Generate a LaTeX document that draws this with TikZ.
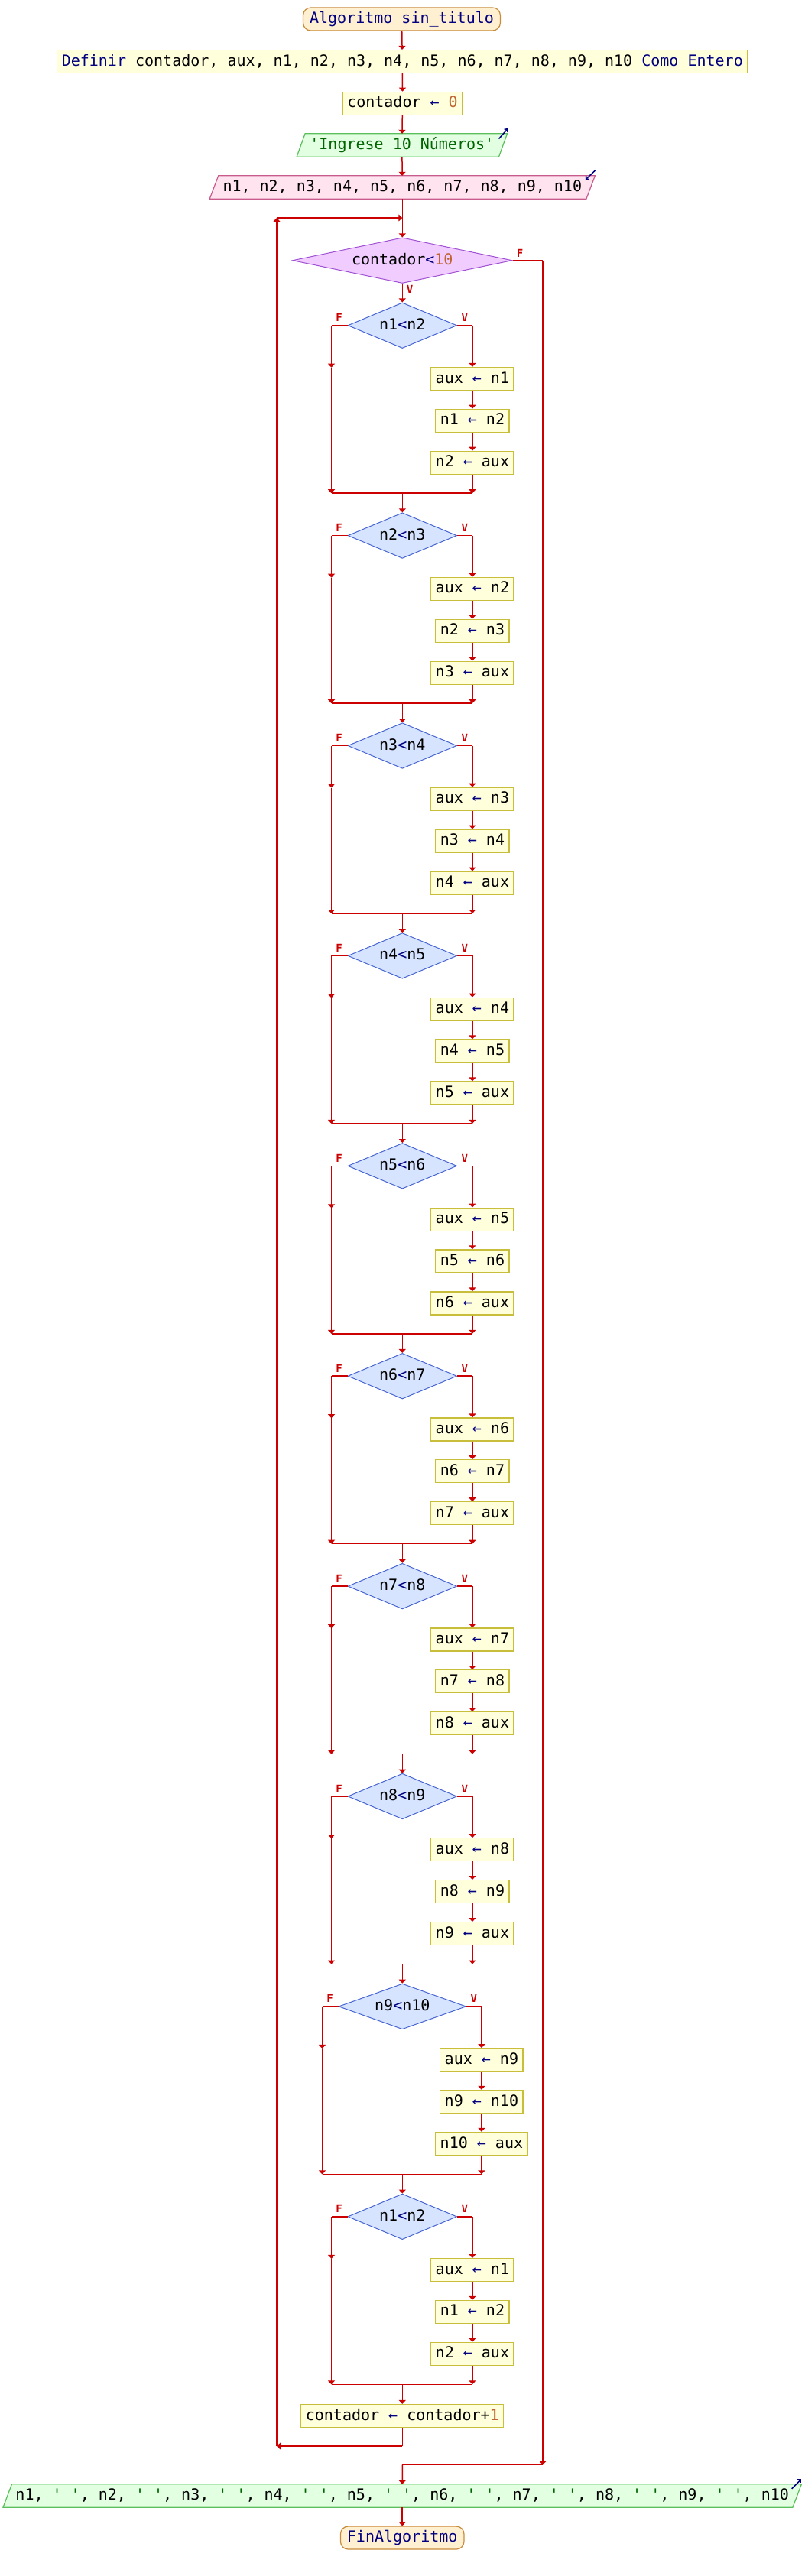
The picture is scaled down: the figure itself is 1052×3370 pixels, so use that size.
\documentclass[tikz,border=0pt]{standalone}
\usepackage{fontspec}
\setmonofont{DejaVu Sans Mono}
\usetikzlibrary{shapes.geometric,arrows.meta,calc,backgrounds}
\definecolor{lred}{RGB}{204,0,0}
\definecolor{navy}{RGB}{0,0,128}
\definecolor{numc}{RGB}{192,100,50}
\definecolor{strg}{RGB}{0,100,0}
\definecolor{tfill}{RGB}{255,240,210}
\definecolor{tborder}{RGB}{200,140,60}
\definecolor{pfill}{RGB}{255,255,220}
\definecolor{pborder}{RGB}{200,190,60}
\definecolor{ifill}{RGB}{255,228,240}
\definecolor{iborder}{RGB}{200,90,140}
\definecolor{ofill}{RGB}{226,255,226}
\definecolor{oborder}{RGB}{90,190,90}
\definecolor{mfill}{RGB}{240,204,255}
\definecolor{mborder}{RGB}{160,80,210}
\definecolor{dfill}{RGB}{214,228,255}
\definecolor{dborder}{RGB}{70,100,210}
\newcommand\asg{{\color{navy}←}}
\newcommand\qsp{{\color{strg}' '}}
\begin{document}
\begin{tikzpicture}[x=1pt,y=-1pt,
  every node/.style={font=\ttfamily\fontsize{20}{24}\selectfont, text height=15pt, text depth=4pt, inner sep=0pt},
  ln/.style={draw=lred, line width=1.5pt},
  arr/.style={-{Triangle[width=9pt,length=5pt]}},
  term/.style={rectangle, rounded corners=10pt, draw=tborder, fill=tfill, line width=1.2pt, minimum height=30pt, inner xsep=8.5pt, text=navy},
  proc/.style={rectangle, draw=pborder, fill=pfill, line width=1.2pt, minimum height=30pt, inner xsep=6pt},
  io/.style={rectangle, minimum height=30pt},
  inpoly/.style={draw=iborder, fill=ifill, line width=1.2pt},
  outpoly/.style={draw=oborder, fill=ofill, line width=1.2pt},
  cond/.style={diamond, draw=dborder, fill=dfill, line width=1pt, shape aspect=2.4, minimum height=59.6pt},
  mcond/.style={diamond, draw=mborder, fill=mfill, line width=1pt, shape aspect=4.8, minimum height=59.6pt, minimum width=287.4pt},
  lab/.style={font=\ttfamily\bfseries\fontsize{14}{14}\selectfont, text=lred, anchor=base},
  deco/.style={draw=navy, line width=1.5pt, -{Straight Barb[length=3pt,width=6pt]}},
]
\useasboundingbox (0,0) rectangle (1052,3370);

% top sequence
\node[term] (t0) at (525.5,25) {Algoritmo sin\_titulo};
\node[proc] (def) at (526.3,80.5) {{\color{navy}Definir} contador, aux, n1, n2, n3, n4, n5, n6, n7, n8, n9, n10 {\color{navy}Como Entero}};
\node[proc] (c0) at (526.5,135.3) {contador \asg{} {\color{numc}0}};
\node[io, minimum width=264pt, text=strg] (ing) at (525.8,190) {'Ingrese 10 Números'};
\node[io, minimum width=492.3pt] (inp) at (526.3,245) {n1, n2, n3, n4, n5, n6, n7, n8, n9, n10};
\begin{scope}[on background layer]
\draw[outpoly] ($(ing.south west)+(-5.5,0)$) -- ($(ing.north west)+(5.5,0)$) -- ($(ing.north east)+(5.5,0)$) -- ($(ing.south east)+(-5.5,0)$) -- cycle;
\draw[inpoly] ($(inp.south west)+(-5.75,0)$) -- ($(inp.north west)+(5.75,0)$) -- ($(inp.north east)+(5.75,0)$) -- ($(inp.south east)+(-5.75,0)$) -- cycle;
\end{scope}
\draw[deco] ($(ing.north east)+(-5.5,6.7)$) -- ($(ing.north east)+(6.5,-6.7)$);
\draw[deco] ($(inp.north east)+(5.75,-6.7)$) -- ($(inp.north east)+(-6.85,5.3)$);

\draw[ln,arr] (t0) -- (def);
\draw[ln,arr] (def) -- (c0);
\draw[ln,arr] (c0) -- (ing);
\draw[ln,arr] (ing) -- (inp);

% main loop condition
\node[mcond] (dm) at (526.3,340.7) {contador{\color{navy}<}{\color{numc}10}};
\draw[ln,arr] (inp) -- (dm);
\node[lab] (lmf) at (680,336) {F};
\node[lab] (lmv) at (536,383) {V};

% inner ifs
\foreach \k/\na/\nb/\hw in {0/1/2/71.3,1/2/3/71.3,2/3/4/71.3,3/4/5/71.3,4/5/6/71.3,5/6/7/71.3,6/7/8/71.3,7/8/9/71.3,8/9/10/83.3,9/1/2/71.3}{
  \pgfmathsetmacro\yc{425.7+274.9*\k}
  \pgfmathsetmacro\fx{526.3-\hw-21.5}
  \pgfmathsetmacro\vx{526.3+\hw+20.3}
  \pgfmathsetmacro\dw{2*\hw}
  \node[cond, minimum width=\dw pt] (d\k) at (526.3,\yc) {n\na{\color{navy}<}n\nb};
  \node[proc] (pa\k) at (\vx,\yc+69.8) {aux \asg{} n\na};
  \node[proc] (pb\k) at (\vx,\yc+124.6) {n\na{} \asg{} n\nb};
  \node[proc] (pc\k) at (\vx,\yc+179.6) {n\nb{} \asg{} aux};
  \coordinate (fc\k) at (\fx,\yc);
  \coordinate (fm\k) at (\fx,\yc+55);
  \coordinate (fe\k) at (\fx,\yc+219.5);
  \coordinate (vc\k) at (\vx,\yc);
  \coordinate (ve\k) at (\vx,\yc+219.5);
  \coordinate (m\k) at (526.3,\yc+219.5);
  \draw[ln] (d\k.west) -- (fc\k);
  \draw[ln,arr] (fc\k) -- (fm\k);
  \draw[ln,arr] (fm\k) -- (fe\k);
  \draw[ln] (d\k.east) -- (vc\k);
  \draw[ln,arr] (vc\k) -- (pa\k);
  \draw[ln,arr] (pa\k) -- (pb\k);
  \draw[ln,arr] (pb\k) -- (pc\k);
  \draw[ln,arr] (pc\k) -- (ve\k);
  \draw[ln] (fe\k) -- (ve\k);
  \node[lab] (lf\k) at (\fx+10,\yc-5) {F};
  \node[lab] (lv\k) at (\vx-10,\yc-5) {V};
  \ifnum\k=0
    \draw[ln,arr] (dm) -- (d\k);
  \else
    \pgfmathtruncatemacro\pk{\k-1}
    \draw[ln,arr] (m\pk) -- (d\k);
  \fi
}

% increment and loop back
\node[proc] (inc) at (526.3,3160.5) {contador \asg{} contador+{\color{numc}1}};
\draw[ln,arr] (m9) -- (inc);
\coordinate (lb1) at (526.3,3200);
\coordinate (lb2) at (362,3200);
\coordinate (lb3) at (362,285);
\coordinate (lj) at (526.3,285);
\draw[ln] (inc) -- (lb1);
\draw[ln,arr] (lb1) -- (lb2);
\draw[ln,arr] (lb2) -- (lb3);
\draw[ln,arr] (lb3) -- (lj);

% exit of main loop
\coordinate (mf1) at (710,340.7);
\coordinate (mf2) at (710,3224.5);
\coordinate (mf3) at (526.3,3224.5);
\node[io, minimum width=1032.5pt] (out) at (526.2,3265) {n1, \qsp, n2, \qsp, n3, \qsp, n4, \qsp, n5, \qsp, n6, \qsp, n7, \qsp, n8, \qsp, n9, \qsp, n10};
\begin{scope}[on background layer]
\draw[outpoly] ($(out.south west)+(-5.75,0)$) -- ($(out.north west)+(5.75,0)$) -- ($(out.north east)+(5.75,0)$) -- ($(out.south east)+(-5.75,0)$) -- cycle;
\end{scope}
\draw[deco] ($(out.north east)+(-6.95,6)$) -- ($(out.north east)+(5.75,-6.7)$);
\draw[ln] (dm.east) -- (mf1);
\draw[ln,arr] (mf1) -- (mf2);
\draw[ln] (mf2) -- (mf3);
\draw[ln,arr] (mf3) -- (out);

\node[term] (fin) at (526.2,3320) {FinAlgoritmo};
\draw[ln,arr] (out) -- (fin);
\end{tikzpicture}
\end{document}
